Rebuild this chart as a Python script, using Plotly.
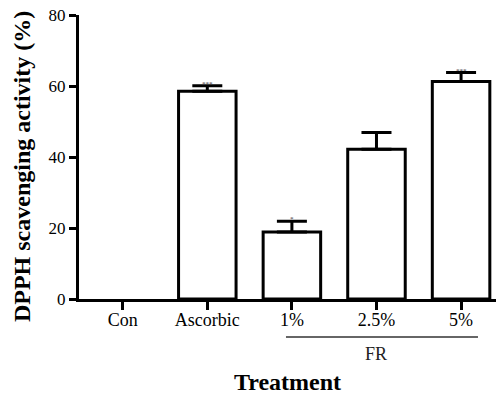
import plotly.graph_objects as go

categories = ["Con", "Ascorbic", "1%", "2.5%", "5%"]
values = [0.0, 58.5, 18.9, 42.2, 61.3]
errors = [0.0, 1.6, 3.0, 4.7, 2.5]
sig_marks = ["", "***", "*", "", "***"]
y_ticks = [0, 20, 40, 60, 80]
group_label = "FR"
group_members = ["1%", "2.5%", "5%"]
x_title = "Treatment"
y_title = "DPPH scavenging activity (%)"

FONT = "Liberation Serif, Times New Roman, serif"

fig = go.Figure()
fig.add_trace(go.Bar(
    x=list(range(len(categories))),
    y=[v if v > 0 else None for v in values],
    width=0.68,
    marker=dict(color="white", line=dict(color="black", width=3)),
    error_y=dict(type="data", symmetric=False,
                 array=errors, arrayminus=[0] * len(errors), color="black",
                 thickness=3, width=15),
    showlegend=False,
))

# significance marks (tiny asterisks on the caps)
for i, (v, e, s) in enumerate(zip(values, errors, sig_marks)):
    if s:
        fig.add_annotation(x=i, y=v + e, text=s, showarrow=False,
                           font=dict(family=FONT, size=7, color="#333"),
                           yshift=2)

# group bracket for FR
idx = [categories.index(m) for m in group_members]
fig.add_shape(type="line", xref="x", yref="paper",
              x0=idx[0] - 0.07, x1=idx[-1] + 0.2, y0=-0.134, y1=-0.134,
              line=dict(color="#666", width=2))
fig.add_annotation(x=(idx[0] + idx[-1]) / 2, xref="x", yref="paper",
                   y=-0.194, yanchor="middle", xanchor="center",
                   text=group_label, showarrow=False,
                   font=dict(family=FONT, size=18, color="#222"))

# axis titles
fig.add_annotation(x=0.5, xref="paper", y=-0.292, yref="paper",
                   xanchor="center", yanchor="middle", showarrow=False,
                   text="<b>" + x_title + "</b>",
                   font=dict(family=FONT, size=24, color="black"))
fig.add_annotation(x=-0.1367, xref="paper", y=0.468, yref="paper",
                   xanchor="center", yanchor="middle", showarrow=False,
                   textangle=-90, text="<b>" + y_title + "</b>",
                   font=dict(family=FONT, size=24, color="black"))

fig.update_layout(
    width=496, height=394,
    margin=dict(l=79, r=0, t=15, b=95),
    paper_bgcolor="white", plot_bgcolor="white",
    font=dict(family=FONT, color="black", size=18),
    bargap=0.3,
)
fig.update_xaxes(
    automargin=False,
    range=[-0.517, 4.413],
    tickmode="array", tickvals=list(range(len(categories))), ticktext=categories,
    showline=True, linecolor="black", linewidth=3,
    ticks="outside", ticklen=8, tickwidth=2.5, tickcolor="black",
    ticklabelstandoff=-6,
    showgrid=False, zeroline=False,
    tickfont=dict(family=FONT, size=18, color="black"),
)
fig.update_yaxes(
    automargin=False,
    range=[0, 80],
    tickmode="array", tickvals=y_ticks,
    showline=True, linecolor="black", linewidth=3,
    ticks="outside", ticklen=7, tickwidth=2.5, tickcolor="black",
    showgrid=False, zeroline=False,
    tickfont=dict(family=FONT, size=17, color="black"),
)

fig.write_html("out.html", config={"displayModeBar": False},
               post_script="document.body.style.margin='0';document.body.style.overflow='hidden';")
